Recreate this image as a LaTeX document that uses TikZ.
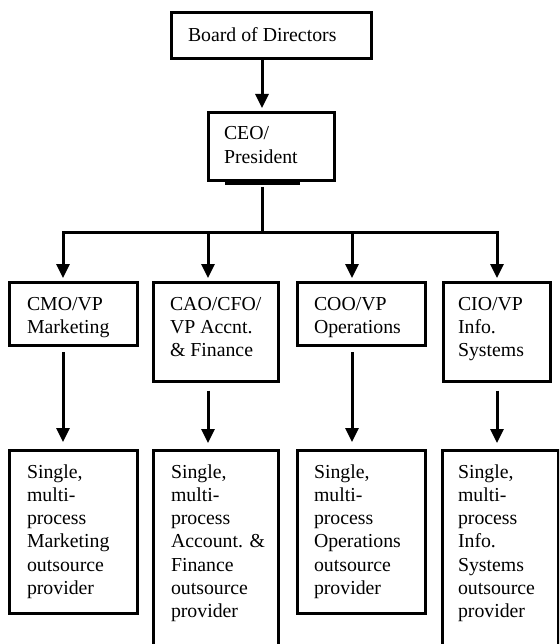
\documentclass[tikz,border=0pt]{standalone}
\usepackage{fontspec}
\setmainfont{Liberation Serif}
\usetikzlibrary{arrows.meta}

% left-aligned stack of lines whose baseline is the first line's baseline
\newcommand\txtlines[1]{\vtop{\baselineskip=23.3pt\lineskiplimit=-20pt\halign{##\hfil\cr#1\crcr}}}

\begin{document}
\begin{tikzpicture}[x=1pt,y=-1pt,
  box/.style={draw,line width=3pt,rectangle,inner sep=0pt,outer sep=0pt,
              anchor=north west,line join=miter},
  lbl/.style={inner sep=0pt,outer sep=0pt,anchor=base west,
              font=\fontsize{19.8}{23.3}\selectfont},
  conn/.style={line width=3pt,line join=miter},
  arr/.style={conn,-{Triangle[width=13pt,length=14pt]}}]

\path[use as bounding box] (0,0) rectangle (559,644);
\clip (0,0) rectangle (559,644);

% boxes
\node[box,minimum width=200pt,minimum height=46pt]  (board) at (171,13)  {};
\node[box,minimum width=126pt,minimum height=68pt]  (ceo)   at (208,113) {};
\node[box,minimum width=128pt,minimum height=63pt]  (cmo)   at (9,282)   {};
\node[box,minimum width=125pt,minimum height=99.5pt](cao)   at (153,282) {};
\node[box,minimum width=128pt,minimum height=63pt]  (coo)   at (297,282) {};
\node[box,minimum width=107pt,minimum height=99.5pt](cio)   at (443,282) {};
\node[box,minimum width=128pt,minimum height=163pt] (mkt)   at (9,450)   {};
\node[box,minimum width=125pt,minimum height=260pt] (acc)   at (153,450) {};
\node[box,minimum width=128pt,minimum height=163pt] (ops)   at (297,450) {};
\node[box,minimum width=116pt,minimum height=260pt] (inf)   at (442,450) {};

% texts
\node[lbl] (tboard) at ([shift={(17,29)}]board.north west) {Board of Directors};
\node[lbl] (tceo) at ([shift={(16,27)}]ceo.north west) {\txtlines{CEO/\cr President}};
\node[lbl] (tcmo) at ([shift={(18,28)}]cmo.north west) {\txtlines{CMO/VP\cr Marketing}};
\node[lbl] (tcao) at ([shift={(17,28)}]cao.north west) {\txtlines{CAO/CFO/\cr VP Accnt.\cr \& Finance}};
\node[lbl] (tcoo) at ([shift={(17,28)}]coo.north west) {\txtlines{COO/VP\cr Operations}};
\node[lbl] (tcio) at ([shift={(15,28)}]cio.north west) {\txtlines{CIO/VP\cr Info.\cr Systems}};
\node[lbl] (tmkt) at ([shift={(18,28)}]mkt.north west) {\txtlines{Single,\cr multi-\cr process\cr Marketing\cr outsource\cr provider}};
\node[lbl] (tacc) at ([shift={(18,28)}]acc.north west) {\txtlines{Single,\cr multi-\cr process\cr Account. \&\cr Finance\cr outsource\cr provider}};
\node[lbl] (tops) at ([shift={(17,28)}]ops.north west) {\txtlines{Single,\cr multi-\cr process\cr Operations\cr outsource\cr provider}};
\node[lbl] (tinf) at ([shift={(16,28)}]inf.north west) {\txtlines{Single,\cr multi-\cr process\cr Info.\cr Systems\cr outsource\cr provider}};

% connector positions
\coordinate (spine) at (262,0);
\coordinate (c1) at (63,232);
\coordinate (c2) at (208,232);
\coordinate (c3) at (352,232);
\coordinate (c4) at (497,232);

% board -> CEO
\draw[arr,shorten >=5pt] (spine |- board.south) -- (spine |- ceo.north);
% heavy bar beneath the CEO box
\draw[line width=3.5pt] ([shift={(17,2.5)}]ceo.south west) -- ([shift={(-34,2.5)}]ceo.south east);
% CEO -> bus
\draw[conn,shorten <=6pt] (spine |- ceo.south) -- (spine |- c1);
% bus and drops to the executives
\draw[arr,shorten >=4pt] (c4) -- (c1) -- (c1 |- cmo.north);
\draw[arr,shorten >=4pt] (c1) -- (c4) -- (c4 |- cio.north);
\draw[arr,shorten >=4pt] (c2) -- (c2 |- cao.north);
\draw[arr,shorten >=4pt] (c3) -- (c3 |- coo.north);
% executives -> providers
\draw[arr,shorten <=7pt,shorten >=8pt] (c1 |- cmo.south) -- (c1 |- mkt.north);
\draw[arr,shorten <=9pt,shorten >=7pt] (c2 |- cao.south) -- (c2 |- acc.north);
\draw[arr,shorten <=7pt,shorten >=8pt] (c3 |- coo.south) -- (c3 |- ops.north);
\draw[arr,shorten <=9pt,shorten >=7pt] (c4 |- cio.south) -- (c4 |- inf.north);
\end{tikzpicture}
\end{document}
